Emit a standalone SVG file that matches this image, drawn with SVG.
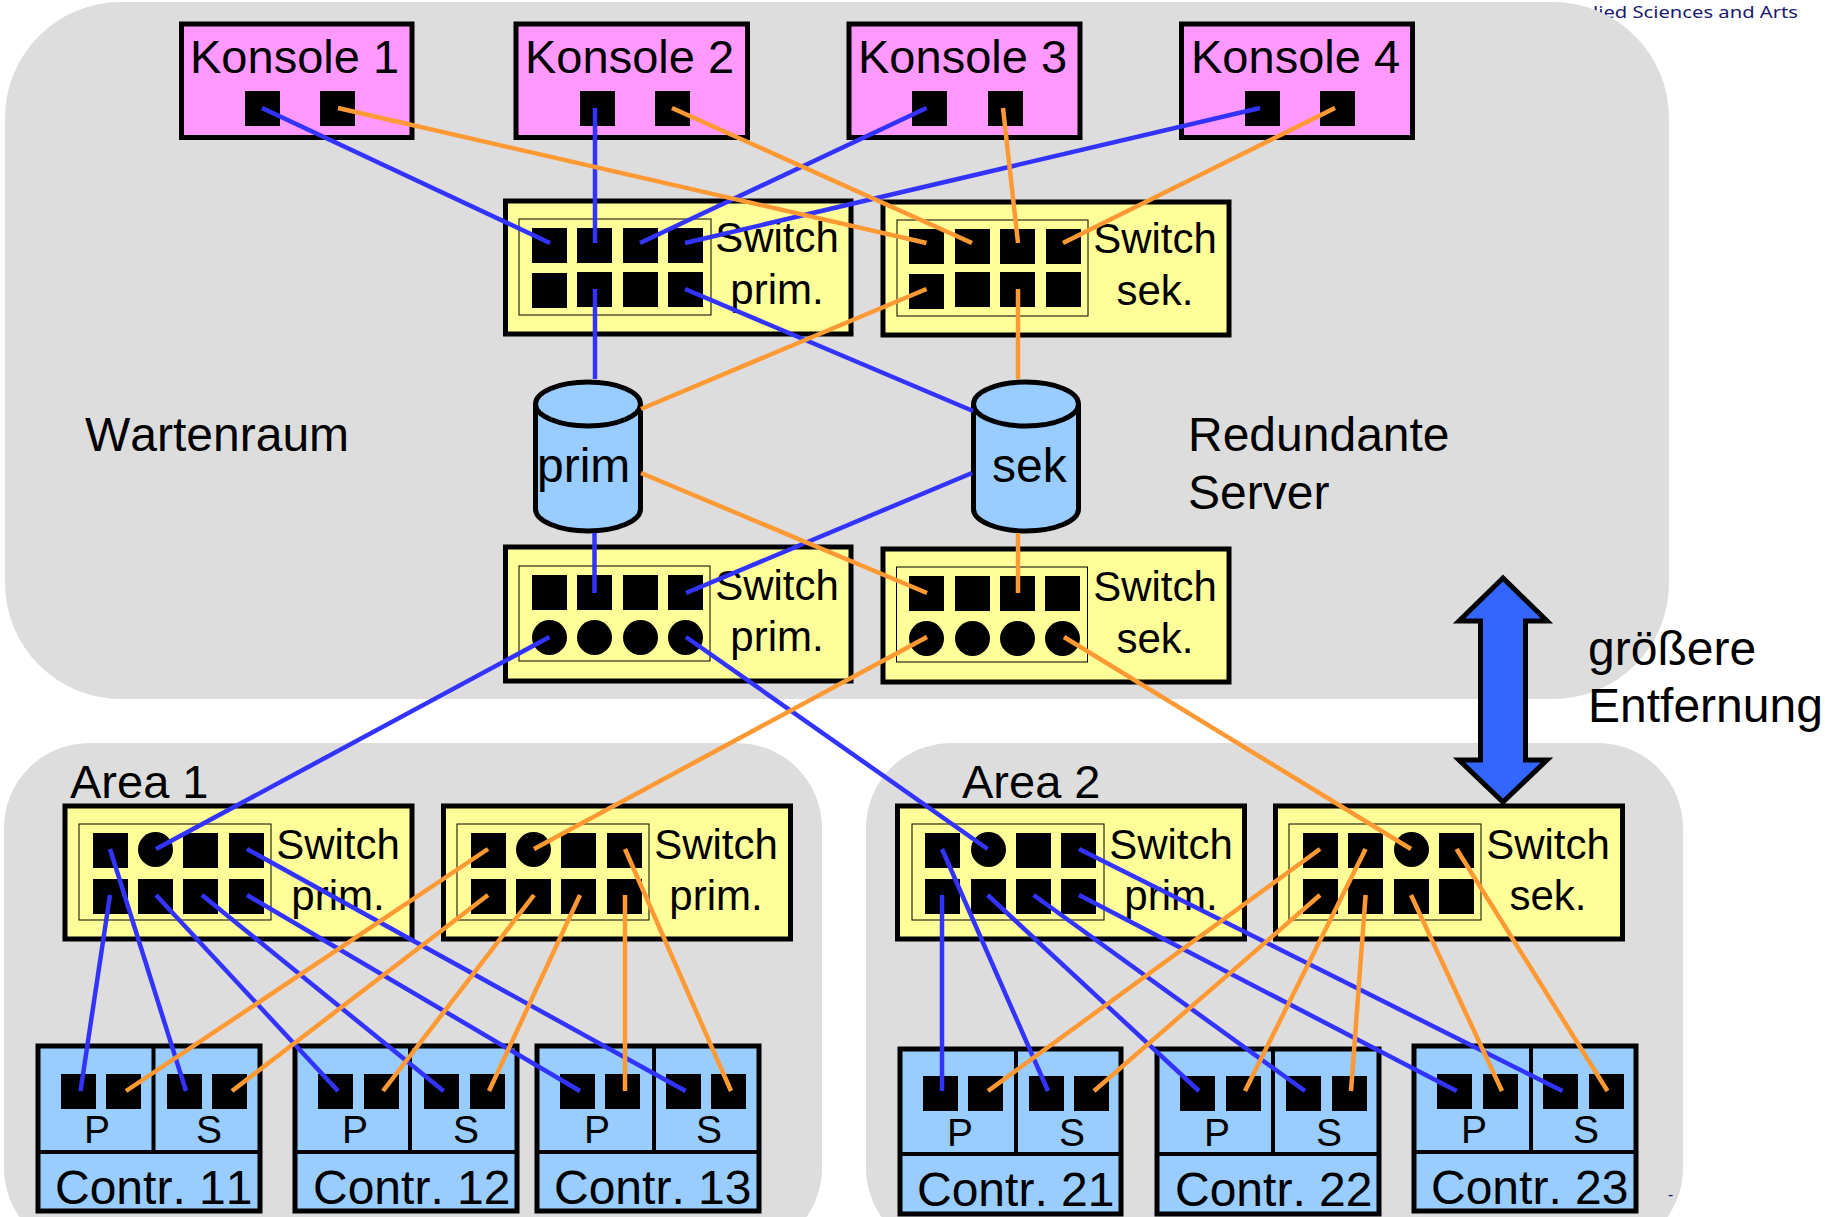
<svg xmlns="http://www.w3.org/2000/svg" width="1825" height="1217" viewBox="0 0 1825 1217">
<style>
text{font-family:"Liberation Sans",Arial,sans-serif;fill:#000;font-kerning:none}
.bg{fill:#ddd}
.k{fill:#f9f;stroke:#000;stroke-width:5}
.s{fill:#ff9;stroke:#000;stroke-width:5}
.i{fill:none;stroke:#000;stroke-width:1}
.c{fill:#9cf;stroke:#000;stroke-width:5}
.l{fill:none;stroke:#000;stroke-width:4}
.cy{fill:#9cf;stroke:#000;stroke-width:5}
.t47{font-size:47px}
.t42{font-size:42px}
.t48{font-size:48px}
.t39{font-size:39px}
.m{text-anchor:middle}
.b line{stroke:#33f;stroke-width:4.500}
.o line{stroke:#f93;stroke-width:4.500}
.small{font-family:"Noto Sans",sans-serif;font-size:16px;fill:#1a1a6e}
</style>
<defs>
<rect id="pt" width="35" height="35" fill="#000"/>
<ellipse id="cr" cx="17.5" cy="17.5" rx="17.5" ry="17.5" fill="#000"/>
</defs>
<text id="header" class="small" x="1593" y="18" textLength="205" lengthAdjust="spacingAndGlyphs">lied Sciences and Arts</text>
<g id="areas">
<rect class="bg" x="5" y="2" width="1664" height="697" rx="116" ry="116"/>
<rect class="bg" x="4" y="743" width="818" height="510" rx="85" ry="85"/>
<rect class="bg" x="866" y="743" width="817" height="510" rx="85" ry="85"/>
</g>
<text id="dash" class="small" x="1668" y="1200">-</text>
<text id="wartenraum" class="t48" x="85" y="451">Wartenraum</text>
<text id="redundante" class="t48" x="1188" y="451">Redundante</text>
<text id="server" class="t48" x="1188" y="509">Server</text>
<text id="groessere" class="t48" x="1588" y="665">größere</text>
<text id="entfernung" class="t48" x="1588" y="722">Entfernung</text>
<text id="area1" class="t47" x="70" y="798">Area 1</text>
<text id="area2" class="t47" x="962" y="798">Area 2</text>

<g id="konsole1"><rect class="k" x="181.500" y="24" width="230.500" height="113.500"/><text class="t47" x="190" y="73">Konsole 1</text><use href="#pt" x="245" y="91"/><use href="#pt" x="320" y="91"/></g>
<g id="konsole2"><rect class="k" x="516" y="24" width="231.500" height="113.500"/><text class="t47" x="525" y="73">Konsole 2</text><use href="#pt" x="580" y="91"/><use href="#pt" x="655" y="91"/></g>
<g id="konsole3"><rect class="k" x="849" y="24" width="231" height="113.500"/><text class="t47" x="858" y="73">Konsole 3</text><use href="#pt" x="912" y="91"/><use href="#pt" x="988" y="91"/></g>
<g id="konsole4"><rect class="k" x="1181.500" y="24" width="231" height="113.500"/><text class="t47" x="1191" y="73">Konsole 4</text><use href="#pt" x="1245" y="91"/><use href="#pt" x="1320" y="91"/></g>

<g id="switch-top-prim"><rect class="s" x="505.500" y="201" width="345.500" height="133"/><rect class="i" x="519" y="219" width="192" height="96"/>
<use href="#pt" x="532" y="228"/><use href="#pt" x="577" y="228"/><use href="#pt" x="623" y="228"/><use href="#pt" x="668" y="228"/>
<use href="#pt" x="532" y="273"/><use href="#pt" x="577" y="272"/><use href="#pt" x="623" y="272"/><use href="#pt" x="668" y="272"/>
<text class="t42 m" x="777" y="252">Switch</text><text class="t42 m" x="777" y="304">prim.</text></g>
<g id="switch-top-sek"><rect class="s" x="883" y="202" width="346" height="133"/><rect class="i" x="897" y="220" width="191" height="96"/>
<use href="#pt" x="909" y="229"/><use href="#pt" x="955" y="229"/><use href="#pt" x="1000" y="229"/><use href="#pt" x="1046" y="229"/>
<use href="#pt" x="909" y="274"/><use href="#pt" x="955" y="272"/><use href="#pt" x="1000" y="272"/><use href="#pt" x="1046" y="272"/>
<text class="t42 m" x="1155" y="253">Switch</text><text class="t42 m" x="1155" y="305">sek.</text></g>

<g id="server-prim"><path class="cy" d="M535.500 404v105a52.500 22 0 0 0 105 0v-105a52.500 22 0 0 0-105 0a52.500 22 0 0 0 105 0"/><text class="t48" x="537" y="482">prim</text></g>
<g id="server-sek"><path class="cy" d="M973.500 404v105a52.500 22 0 0 0 105 0v-105a52.500 22 0 0 0-105 0a52.500 22 0 0 0 105 0"/><text class="t48" x="992" y="482">sek</text></g>

<g id="switch-low-prim"><rect class="s" x="505.500" y="547" width="345.500" height="134"/><rect class="i" x="519" y="566" width="191" height="95"/>
<use href="#pt" x="532" y="575"/><use href="#pt" x="577" y="575"/><use href="#pt" x="623" y="575"/><use href="#pt" x="668" y="575"/>
<use href="#cr" x="532" y="620"/><use href="#cr" x="577" y="620"/><use href="#cr" x="623" y="620"/><use href="#cr" x="668" y="620"/>
<text class="t42 m" x="777" y="600">Switch</text><text class="t42 m" x="777" y="651">prim.</text></g>
<g id="switch-low-sek"><rect class="s" x="883" y="549" width="346" height="133"/><rect class="i" x="896.5" y="567" width="191" height="95"/>
<use href="#pt" x="909" y="576"/><use href="#pt" x="955" y="576"/><use href="#pt" x="1000" y="576"/><use href="#pt" x="1045" y="576"/>
<use href="#cr" x="909" y="621"/><use href="#cr" x="955" y="621"/><use href="#cr" x="1000" y="621"/><use href="#cr" x="1045" y="621"/>
<text class="t42 m" x="1155" y="601">Switch</text><text class="t42 m" x="1155" y="653">sek.</text></g>

<g id="switch-a1-prim"><rect class="s" x="65" y="806" width="347" height="133"/><rect class="i" x="79" y="824" width="192" height="96"/>
<use href="#pt" x="93" y="833"/><use href="#cr" x="138" y="832"/><use href="#pt" x="183" y="833"/><use href="#pt" x="229" y="833"/>
<use href="#pt" x="93" y="879"/><use href="#pt" x="138" y="879"/><use href="#pt" x="183" y="879"/><use href="#pt" x="229" y="879"/>
<text class="t42 m" x="338" y="859">Switch</text><text class="t42 m" x="338" y="910">prim.</text></g>
<g id="switch-a1-prim2"><rect class="s" x="443.500" y="806" width="347" height="133"/><rect class="i" x="457" y="824" width="192" height="96"/>
<use href="#pt" x="471" y="833"/><use href="#cr" x="516" y="832"/><use href="#pt" x="561" y="833"/><use href="#pt" x="607" y="833"/>
<use href="#pt" x="471" y="879"/><use href="#pt" x="516" y="879"/><use href="#pt" x="561" y="879"/><use href="#pt" x="607" y="879"/>
<text class="t42 m" x="716" y="859">Switch</text><text class="t42 m" x="716" y="910">prim.</text></g>
<g id="switch-a2-prim"><rect class="s" x="897.500" y="806" width="347" height="133"/><rect class="i" x="912" y="824" width="192" height="96"/>
<use href="#pt" x="925" y="833"/><use href="#cr" x="971" y="832"/><use href="#pt" x="1016" y="833"/><use href="#pt" x="1061" y="833"/>
<use href="#pt" x="925" y="879"/><use href="#pt" x="971" y="879"/><use href="#pt" x="1016" y="879"/><use href="#pt" x="1061" y="879"/>
<text class="t42 m" x="1171" y="859">Switch</text><text class="t42 m" x="1171" y="910">prim.</text></g>
<g id="switch-a2-sek"><rect class="s" x="1275.500" y="806" width="347" height="133"/><rect class="i" x="1289" y="824" width="192" height="96"/>
<use href="#pt" x="1303" y="833"/><use href="#pt" x="1348" y="833"/><use href="#cr" x="1394" y="832"/><use href="#pt" x="1439" y="833"/>
<use href="#pt" x="1303" y="879"/><use href="#pt" x="1348" y="879"/><use href="#pt" x="1394" y="879"/><use href="#pt" x="1439" y="879"/>
<text class="t42 m" x="1548" y="859">Switch</text><text class="t42 m" x="1548" y="910">sek.</text></g>

<g id="contr11"><rect class="c" x="38" y="1046" width="222" height="165"/><path class="l" d="M38 1152H260M153.500 1046V1152"/>
<use href="#pt" x="61" y="1074"/><use href="#pt" x="106" y="1074"/><use href="#pt" x="167" y="1074"/><use href="#pt" x="212" y="1074"/>
<text class="t39" x="84" y="1143">P</text><text class="t39" x="196" y="1143">S</text><text class="t48" x="55" y="1204">Contr. 11</text></g>
<g id="contr12"><rect class="c" x="295" y="1046" width="222" height="165"/><path class="l" d="M295 1152H517M410 1046V1152"/>
<use href="#pt" x="318" y="1074"/><use href="#pt" x="364" y="1074"/><use href="#pt" x="424" y="1074"/><use href="#pt" x="470" y="1074"/>
<text class="t39" x="342" y="1143">P</text><text class="t39" x="453" y="1143">S</text><text class="t48" x="313" y="1204">Contr. 12</text></g>
<g id="contr13"><rect class="c" x="537" y="1046" width="222" height="165"/><path class="l" d="M537 1152H759M654 1046V1152"/>
<use href="#pt" x="560" y="1074"/><use href="#pt" x="605" y="1074"/><use href="#pt" x="666" y="1074"/><use href="#pt" x="711" y="1074"/>
<text class="t39" x="584" y="1143">P</text><text class="t39" x="696" y="1143">S</text><text class="t48" x="554" y="1204">Contr. 13</text></g>
<g id="contr21"><rect class="c" x="900" y="1049" width="221" height="165"/><path class="l" d="M900 1154H1121M1016 1049V1154"/>
<use href="#pt" x="923" y="1076"/><use href="#pt" x="968" y="1076"/><use href="#pt" x="1029" y="1076"/><use href="#pt" x="1074" y="1076"/>
<text class="t39" x="947" y="1146">P</text><text class="t39" x="1059" y="1146">S</text><text class="t48" x="917" y="1206">Contr. 21</text></g>
<g id="contr22"><rect class="c" x="1157" y="1049" width="222" height="165"/><path class="l" d="M1157 1154H1379M1273 1049V1154"/>
<use href="#pt" x="1180" y="1076"/><use href="#pt" x="1226" y="1076"/><use href="#pt" x="1286" y="1076"/><use href="#pt" x="1332" y="1076"/>
<text class="t39" x="1204" y="1146">P</text><text class="t39" x="1316" y="1146">S</text><text class="t48" x="1175" y="1206">Contr. 22</text></g>
<g id="contr23"><rect class="c" x="1414" y="1046" width="222" height="165"/><path class="l" d="M1414 1152H1636M1531 1046V1152"/>
<use href="#pt" x="1437" y="1074"/><use href="#pt" x="1483" y="1074"/><use href="#pt" x="1543" y="1074"/><use href="#pt" x="1589" y="1074"/>
<text class="t39" x="1461" y="1143">P</text><text class="t39" x="1573" y="1143">S</text><text class="t48" x="1431" y="1204">Contr. 23</text></g>

<g id="connectors">
<g class="b">
<line x1="262" y1="108" x2="550" y2="243"/>
<line x1="595" y1="108" x2="595" y2="243"/>
<line x1="926.500" y1="108" x2="640" y2="243"/>
<line x1="1260" y1="108" x2="685" y2="243"/>
<line x1="595" y1="289" x2="595" y2="379"/>
<line x1="685" y1="289" x2="973" y2="411"/>
<line x1="594.500" y1="533" x2="594.500" y2="593"/>
<line x1="972" y1="473" x2="686" y2="593"/>
<line x1="549.500" y1="637" x2="156" y2="849"/>
<line x1="686" y1="637" x2="987.600" y2="849"/>
<line x1="110" y1="895" x2="80.500" y2="1091"/>
<line x1="110" y1="849" x2="186" y2="1091"/>
<line x1="156" y1="895" x2="338" y2="1091"/>
<line x1="202" y1="895" x2="443.600" y2="1091"/>
<line x1="247" y1="895" x2="580" y2="1091"/>
<line x1="247" y1="849" x2="685.600" y2="1091"/>
<line x1="942" y1="895" x2="942" y2="1091"/>
<line x1="942" y1="849" x2="1048" y2="1091"/>
<line x1="987.600" y1="895" x2="1199" y2="1091"/>
<line x1="1033.600" y1="895" x2="1305" y2="1091"/>
<line x1="1079" y1="895" x2="1456.600" y2="1091"/>
<line x1="1079" y1="849" x2="1562.500" y2="1091"/>
</g>
<g class="o">
<line x1="338" y1="108" x2="926.500" y2="243"/>
<line x1="672" y1="108" x2="972" y2="243"/>
<line x1="1003" y1="108" x2="1018" y2="243"/>
<line x1="1335" y1="108" x2="1063" y2="243"/>
<line x1="926.500" y1="289" x2="641" y2="409"/>
<line x1="1018" y1="289" x2="1018" y2="379"/>
<line x1="641" y1="473" x2="927" y2="593"/>
<line x1="1018" y1="533" x2="1018" y2="593"/>
<line x1="927" y1="637" x2="534" y2="849"/>
<line x1="1064" y1="637" x2="1411" y2="849"/>
<line x1="488" y1="849" x2="126" y2="1091"/>
<line x1="488" y1="895" x2="232" y2="1091"/>
<line x1="534" y1="895" x2="383" y2="1091"/>
<line x1="580" y1="895" x2="489" y2="1091"/>
<line x1="625" y1="895" x2="625" y2="1091"/>
<line x1="625" y1="849" x2="731" y2="1091"/>
<line x1="1320" y1="849" x2="988" y2="1091"/>
<line x1="1320" y1="895" x2="1094" y2="1091"/>
<line x1="1365.600" y1="849" x2="1245" y2="1091"/>
<line x1="1365.600" y1="895" x2="1351" y2="1091"/>
<line x1="1411" y1="895" x2="1502" y2="1091"/>
<line x1="1456.600" y1="849" x2="1607.500" y2="1091"/>
</g>
</g>
<g id="distance-arrow"><polygon points="1503,578 1547,621 1525.500,621 1525.500,760 1547,760 1503,802 1459,760 1480.500,760 1480.500,621 1459,621" fill="#36f" stroke="#000" stroke-width="5"/></g>
</svg>
